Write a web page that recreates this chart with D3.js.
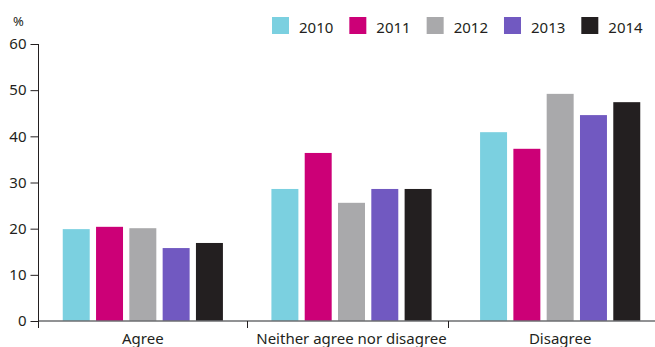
<!DOCTYPE html>
<html>
<head>
<meta charset="utf-8">
<script src="https://cdn.jsdelivr.net/npm/d3@7"></script>
<style>
  html, body { margin: 0; padding: 0; background: #fff; }
  svg { display: block; font-family: "Noto Sans", "Open Sans", sans-serif; }
</style>
</head>
<body>
<svg id="chart" width="655" height="347"></svg>
<script>
// Survey responses by year (%)
const categories = ["Agree", "Neither agree nor disagree", "Disagree"];
const years = ["2010", "2011", "2012", "2013", "2014"];
const values2010 = [19.9, 28.6, 40.9];
const values2011 = [20.4, 36.4, 37.3];
const values2012 = [20.1, 25.6, 49.2];
const values2013 = [15.8, 28.6, 44.6];
const values2014 = [16.9, 28.6, 47.4];
const yTicks = [0, 10, 20, 30, 40, 50, 60];
const colors = ["#7bd0e0", "#cc0077", "#a9a9ab", "#7159c1", "#231f20"];

const series = [values2010, values2011, values2012, values2013, values2014];
const textColor = "#231f20";
const fontFamily = "'Noto Sans', 'Open Sans', sans-serif";

const svg = d3.select("#chart");
const plotLeft = 38.5, plotTop = 44, plotBottom = 321, plotRight = 664.5;

const x0 = d3.scaleBand().domain(categories).range([plotLeft, plotRight]).paddingInner(0).paddingOuter(0);
const x1 = d3.scaleBand().domain(years).range([0, x0.bandwidth()]).paddingInner(0.19).paddingOuter(0.728);
const y = d3.scaleLinear().domain([0, 60]).range([plotBottom, plotTop]);
const color = d3.scaleOrdinal().domain(years).range(colors);

// Bars
const groups = svg.append("g").selectAll("g")
  .data(categories)
  .join("g")
  .attr("transform", d => `translate(${x0(d)},0)`);

groups.selectAll("rect")
  .data((d, i) => years.map((yr, j) => ({ year: yr, value: series[j][i] })))
  .join("rect")
  .attr("x", d => x1(d.year))
  .attr("width", x1.bandwidth())
  .attr("y", d => y(d.value))
  .attr("height", d => y(0) - y(d.value))
  .attr("fill", d => color(d.year));

// Y axis
const yAxis = d3.axisLeft(y).tickValues(yTicks).tickSize(8).tickPadding(4).tickSizeOuter(0);
const yg = svg.append("g").attr("transform", `translate(${plotLeft},0)`).call(yAxis);
yg.select(".domain").remove();
yg.selectAll(".tick line").attr("stroke", textColor).attr("stroke-width", 1);
yg.selectAll(".tick text")
  .attr("fill", textColor)
  .style("font-size", "15px")
  .style("font-family", fontFamily);

// Baseline
svg.append("line")
  .attr("x1", plotLeft).attr("x2", 655)
  .attr("y1", y(0)).attr("y2", y(0))
  .attr("stroke", "#6d6e71").attr("stroke-width", 1.5);

// Vertical axis line, running a little below zero
svg.append("line")
  .attr("x1", plotLeft).attr("x2", plotLeft)
  .attr("y1", y(60)).attr("y2", y(0) + 7)
  .attr("stroke", textColor).attr("stroke-width", 1);

// Category separators
categories.slice(1).forEach(c => {
  const sx = Math.round(x0(c) - (c === categories[2] ? 8 : 0)) + 0.5;
  svg.append("line")
    .attr("x1", sx).attr("x2", sx)
    .attr("y1", y(0)).attr("y2", y(0) + 7)
    .attr("stroke", textColor).attr("stroke-width", 1);
});

// Category labels
svg.append("g").selectAll("text")
  .data(categories)
  .join("text")
  .attr("x", d => x0(d) + x0.bandwidth() / 2)
  .attr("y", 344)
  .attr("text-anchor", "middle")
  .attr("fill", textColor)
  .style("font-size", "15px")
  .text(d => d);

// Unit label
svg.append("text")
  .attr("x", 13).attr("y", 26)
  .attr("fill", textColor)
  .style("font-size", "13px")
  .text("%");

// Legend
const legend = svg.append("g");
let lx = 272;
years.forEach((yr, i) => {
  legend.append("rect")
    .attr("x", lx).attr("y", 17)
    .attr("width", 17).attr("height", 17)
    .attr("fill", color(yr));
  const t = legend.append("text")
    .attr("x", lx + 27).attr("y", 33)
    .attr("fill", textColor)
    .style("font-size", "15px")
    .text(yr);
  lx = lx + 27 + t.node().getComputedTextLength() + 16;
});
</script>
</body>
</html>
